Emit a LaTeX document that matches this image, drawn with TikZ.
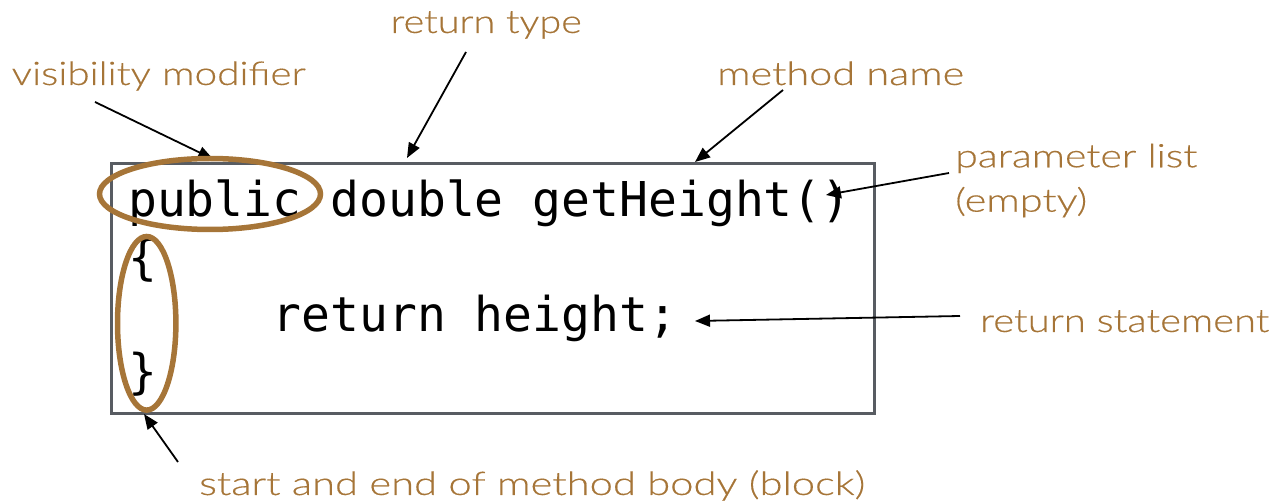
\documentclass[tikz,border=0pt]{standalone}
\usepackage{fontspec}
\usetikzlibrary{arrows.meta,shapes.geometric}
\newfontfamily\codefont{DejaVu Sans Mono}
\newfontfamily\lblfont{Lato Light}[FakeBold=0.35]
\definecolor{ochre}{RGB}{166,117,56}
\definecolor{framegray}{RGB}{88,92,98}
% set a label to a given width, keeping its natural height
\newcommand{\widen}[2]{\resizebox{#1}{\height}{#2}}

\begin{document}
\begin{tikzpicture}[x=1pt,y=-1pt,
  code/.style={font=\codefont\fontsize{48}{57}\selectfont, inner sep=0pt, anchor=base west},
  lbl/.style={font=\lblfont\fontsize{32.5}{40}\selectfont, text=ochre, inner sep=0pt, anchor=base west},
  ring/.style={ellipse, draw=ochre, line width=5.5pt, inner sep=0pt},
  pointer/.style={draw=black, line width=1.8pt, -{Triangle[length=15pt,width=12pt]}},
]
\useasboundingbox (0,0) rectangle (1278,502);

% code frame
\node[draw=framegray, line width=3.3pt, minimum width=763pt, minimum height=250pt, inner sep=0pt]
  (frame) at (492.8,288.3) {};

% method source
\node[code] (line1) at (128,217)   {public double getHeight()};
\node[code] (line2) at (128,274.3) {\{};
\node[code] (line3) at (272.5,331.7) {return height;};
\node[code] (line4) at (128,389)   {\}};

% labels
\node[lbl] (vis)    at (11.5,85)   {\widen{294pt}{visibility modifier}};
\node[lbl] (rtype)  at (390.5,33)  {\widen{191pt}{return type}};
\node[lbl] (mname)  at (717,85)    {\widen{247pt}{method name}};
\node[lbl] (plist)  at (955,167.3) {\widen{242pt}{parameter list}};
\node[lbl] (pempty) at (955,211.7) {\widen{132pt}{(empty)}};
\node[lbl] (rstmt)  at (980,332)   {\widen{289pt}{return statement}};
\node[lbl] (body)   at (199,495)   {\widen{666pt}{start and end of method body (block)}};

% arrow ends
\coordinate (visT)   at (95,102);   \coordinate (visH)   at (213,159);
\coordinate (rtypeT) at (466,52);   \coordinate (rtypeH) at (407,158);
\coordinate (mnameT) at (783,90);   \coordinate (mnameH) at (695,162);
\coordinate (plistT) at (949,173);  \coordinate (plistH) at (826,195);
\coordinate (rstmtT) at (960,316);  \coordinate (rstmtH) at (695,321);
\coordinate (bodyT)  at (178,462);  \coordinate (bodyH)  at (144,414);

\draw[pointer] (visT) -- (visH);
\draw[pointer] (rtypeT) -- (rtypeH);
\draw[pointer] (mnameT) -- (mnameH);
\draw[pointer] (plistT) -- (plistH);
\draw[pointer] (rstmtT) -- (rstmtH);
\draw[pointer] (bodyT) -- (bodyH);

% highlighted parts, drawn over the arrow tips
\node[ring, minimum width=221pt, minimum height=71pt] (pubring) at (210,194) {};
\node[ring, minimum width=58.4pt, minimum height=173.6pt] (blockring) at (146.7,323.3) {};
\end{tikzpicture}
\end{document}
